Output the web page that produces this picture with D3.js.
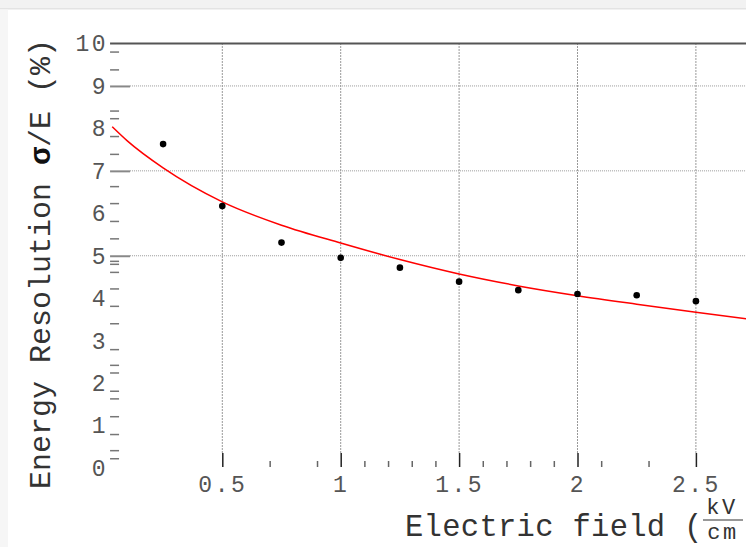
<!DOCTYPE html>
<html>
<head>
<meta charset="utf-8">
<script src="https://cdn.jsdelivr.net/npm/d3@7"></script>
<style>
  html, body { margin: 0; padding: 0; background: #fff; overflow: hidden; }
  svg { display: block; }
</style>
</head>
<body>
<svg id="chart" width="746" height="547"></svg>
<script>
// Measured energy resolution versus drift field
const fieldKVcm = [0.25, 0.5, 0.75, 1.0, 1.25, 1.5, 1.75, 2.0, 2.25, 2.5];
const resolutionPct = [7.63, 6.17, 5.31, 4.95, 4.72, 4.39, 4.19, 4.10, 4.07, 3.93];

// Fitted curve, sampled along the field axis
const fitField = [0.035, 0.1, 0.25, 0.5, 0.75, 1.0, 1.25, 1.5, 1.75, 2.0, 2.25, 2.5, 2.75];
const fitResolution = [8.04, 7.70, 7.07, 6.27, 5.72, 5.30, 4.91, 4.57, 4.29, 4.06, 3.86, 3.67, 3.49];

// Axis ticks
const xMajorTicks = [0.5, 1, 1.5, 2, 2.5];
const xMinorTicks = [0.7, 0.9, 1.1, 1.2, 1.3, 1.4, 1.6, 1.7, 1.8, 1.9, 2.1, 2.3];
const yLabelTicks = [0, 1, 2, 3, 4, 5, 6, 7, 8, 9, 10];
const yGridTicks = [9, 7, 5];
const yMinorTicks = [9.81, 9.39, 8.42, 8.24, 7.82, 7.40, 6.64, 6.24, 5.82, 5.41,
                     4.88, 4.81, 4.62, 4.23, 3.82, 3.41, 2.80, 2.43, 2.25, 1.82,
                     1.64, 1.22, 0.80, 0.42, 0.23];

const W = 746, H = 547;
const MONO = "'Liberation Mono', 'DejaVu Sans Mono', monospace";

const svg = d3.select("#chart");

// Window chrome: light band along the top and left edges
svg.append("rect").attr("x", 0).attr("y", 0).attr("width", W).attr("height", 8).attr("fill", "#f2f2f2");
svg.append("rect").attr("x", 0).attr("y", 8).attr("width", W).attr("height", 1.5).attr("fill", "#e3e3e3");
svg.append("rect").attr("x", 0).attr("y", 9.5).attr("width", 8).attr("height", H).attr("fill", "#f6f6f6");

const x = d3.scaleLinear().domain([0, 3]).range([103.9, 814.3]);
const y = d3.scaleLinear().domain([0, 10]).range([468, 43.5]);
const xFrame = 0.026;       // left edge of the frame
const yBase = y(0) - 1;     // x-axis baseline

// Vertical grid lines at the major field ticks
svg.append("g").selectAll("line")
  .data(xMajorTicks).join("line")
  .attr("x1", d => x(d)).attr("x2", d => x(d))
  .attr("y1", y(10)).attr("y2", yBase - 14)
  .attr("stroke", "#333").attr("stroke-width", 1)
  .attr("stroke-dasharray", "1,2");

// Horizontal grid lines
svg.append("g").selectAll("line")
  .data(yGridTicks).join("line")
  .attr("x1", x(xFrame) + 20).attr("x2", W)
  .attr("y1", d => y(d)).attr("y2", d => y(d))
  .attr("stroke", "#9a9a9a").attr("stroke-width", 1)
  .attr("stroke-dasharray", "1,1");

// Top frame line
svg.append("line")
  .attr("x1", x(xFrame)).attr("x2", W)
  .attr("y1", y(10)).attr("y2", y(10))
  .attr("stroke", "#555").attr("stroke-width", 2);

// X axis: major ticks with labels, then minor ticks
const xAxisMajor = svg.append("g")
  .attr("transform", `translate(0,${yBase})`)
  .call(d3.axisBottom(x).tickValues(xMajorTicks).tickSize(-14).tickPadding(9)
        .tickFormat(d => String(d)));
xAxisMajor.select(".domain").remove();
xAxisMajor.selectAll(".tick line").attr("stroke", "#222").attr("stroke-width", 1.5);
xAxisMajor.selectAll(".tick text")
  .attr("font-family", MONO).attr("font-size", 23).attr("fill", "#555")
  .attr("letter-spacing", "2.5px");

const xAxisMinor = svg.append("g")
  .attr("transform", `translate(0,${yBase})`)
  .call(d3.axisBottom(x).tickValues(xMinorTicks).tickSize(-6).tickFormat(""));
xAxisMinor.select(".domain").remove();
xAxisMinor.selectAll(".tick line").attr("stroke", "#666").attr("stroke-width", 1.5);

// Y axis: labels, long ticks and short ticks
const yAxisLabels = svg.append("g")
  .attr("transform", `translate(${x(xFrame)},0)`)
  .call(d3.axisLeft(y).tickValues(yLabelTicks).tickSize(0).tickPadding(2)
        .tickFormat(d => String(d)));
yAxisLabels.select(".domain").remove();
yAxisLabels.selectAll(".tick text")
  .attr("font-family", MONO).attr("font-size", 23).attr("fill", "#555")
  .attr("letter-spacing", "2.5px");

const yAxisLong = svg.append("g")
  .attr("transform", `translate(${x(xFrame)},0)`)
  .call(d3.axisRight(y).tickValues(yGridTicks).tickSize(20).tickFormat(""));
yAxisLong.select(".domain").remove();
yAxisLong.selectAll(".tick line").attr("stroke", "#888").attr("stroke-width", 2);

const yAxisMinor = svg.append("g")
  .attr("transform", `translate(${x(xFrame)},0)`)
  .call(d3.axisRight(y).tickValues(yMinorTicks).tickSize(9).tickFormat(""));
yAxisMinor.select(".domain").remove();
yAxisMinor.selectAll(".tick line").attr("stroke", "#777").attr("stroke-width", 1.5);

// Fit curve
const fitLine = d3.line()
  .x(d => x(d[0])).y(d => y(d[1]))
  .curve(d3.curveMonotoneX);
svg.append("path")
  .datum(d3.zip(fitField, fitResolution))
  .attr("d", fitLine)
  .attr("fill", "none").attr("stroke", "#ff0000").attr("stroke-width", 1.5);

// Data points
svg.append("g").selectAll("circle")
  .data(d3.zip(fieldKVcm, resolutionPct)).join("circle")
  .attr("cx", d => x(d[0])).attr("cy", d => y(d[1]))
  .attr("r", 3.3).attr("fill", "#000");

// Y axis title
const yTitle = svg.append("text")
  .attr("transform", "translate(50,264) rotate(-90)")
  .attr("text-anchor", "middle")
  .attr("font-family", MONO).attr("font-size", 30).attr("fill", "#333");
yTitle.append("tspan").text("Energy Resolution ");
yTitle.append("tspan").attr("font-weight", "bold").attr("fill", "#111").text("σ");
yTitle.append("tspan").text("/E (%)");

// X axis title with a stacked kV / cm unit
const xTitle = svg.append("g").attr("font-family", MONO).attr("fill", "#333");
xTitle.append("text").attr("x", 405).attr("y", 536).attr("font-size", 30.5)
  .attr("letter-spacing", "0.3px")
  .text("Electric field (");
xTitle.append("text").attr("x", 722).attr("y", 514).attr("font-size", 22)
  .attr("letter-spacing", "2.5px")
  .attr("text-anchor", "middle").text("kV");
xTitle.append("line").attr("x1", 703).attr("x2", 743).attr("y1", 520).attr("y2", 520)
  .attr("stroke", "#333").attr("stroke-width", 1.2);
xTitle.append("text").attr("x", 723).attr("y", 539).attr("font-size", 22)
  .attr("letter-spacing", "2.5px")
  .attr("text-anchor", "middle").text("cm");
xTitle.append("text").attr("x", 742).attr("y", 536).attr("font-size", 30.5)
  .text(")");
</script>
</body>
</html>
